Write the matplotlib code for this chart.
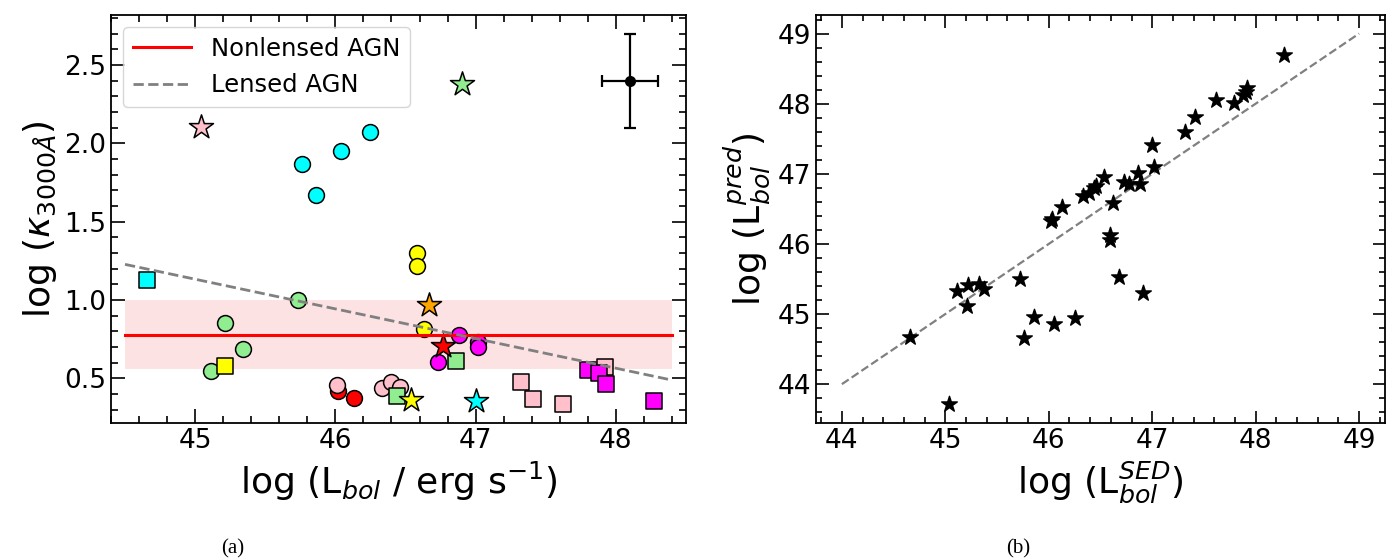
import numpy as np
import matplotlib
matplotlib.use("Agg")
import matplotlib.pyplot as plt

# ---- panel (a): log kappa_3000 vs log L_bol ----
# one list pair per colour / marker group
cyan_circ_x = [45.76, 45.86, 46.04, 46.25]
cyan_circ_y = [1.87, 1.67, 1.95, 2.07]
green_circ_x = [45.73, 45.21, 45.34, 45.11]
green_circ_y = [1.00, 0.855, 0.687, 0.549]
yellow_circ_x = [46.58, 46.58, 46.63]
yellow_circ_y = [1.30, 1.22, 0.817]
red_circ_x = [46.02, 46.13]
red_circ_y = [0.417, 0.375]
pink_circ_x = [46.01, 46.33, 46.40, 46.46]
pink_circ_y = [0.457, 0.44, 0.479, 0.447]
magenta_circ_x = [46.88, 47.02, 47.02, 46.73]
magenta_circ_y = [0.779, 0.734, 0.698, 0.604]

cyan_sq_x = [44.66]
cyan_sq_y = [1.128]
yellow_sq_x = [45.21]
yellow_sq_y = [0.579]
green_sq_x = [46.44, 46.86]
green_sq_y = [0.387, 0.613]
pink_sq_x = [47.32, 47.41, 47.62, 47.92]
pink_sq_y = [0.475, 0.368, 0.336, 0.574]
magenta_sq_x = [47.80, 47.88, 47.93, 48.27]
magenta_sq_y = [0.553, 0.532, 0.462, 0.353]

pink_star_x, pink_star_y = [45.04], [2.106]
green_star_x, green_star_y = [46.90], [2.378]
orange_star_x, orange_star_y = [46.67], [0.966]
red_star_x, red_star_y = [46.77], [0.706]
yellow_star_x, yellow_star_y = [46.54], [0.362]
cyan_star_x, cyan_star_y = [47.00], [0.355]

# typical uncertainty
err_x, err_y, err_dx, err_dy = 48.1, 2.4, 0.2, 0.3

# relations
line_x = [44.5, 48.4]
nonlensed_level = 0.78
nonlensed_lo, nonlensed_hi = 0.56, 1.0
lensed_y = [1.228, 0.489]

# ---- panel (b): predicted vs SED luminosity ----
sed_x = [44.66, 45.04, 45.11, 45.22, 45.33, 45.37, 45.21, 45.72, 45.76, 45.86,
         46.05, 46.25, 46.03, 46.02, 46.13, 46.33, 46.39, 46.44, 46.46, 46.53,
         46.62, 46.59, 46.59, 46.68, 46.91, 46.73, 46.78, 46.88, 46.86, 47.02,
         47.00, 47.32, 47.41, 47.62, 47.79, 47.88, 47.91, 47.92, 48.27]
pred_y = [44.67, 43.71, 45.33, 45.41, 45.43, 45.35, 45.12, 45.50, 44.66, 44.96,
          44.86, 44.95, 46.35, 46.32, 46.52, 46.68, 46.72, 46.80, 46.83, 46.95,
          46.58, 46.13, 46.06, 45.53, 45.30, 46.88, 46.85, 46.86, 47.01, 47.09,
          47.41, 47.60, 47.81, 48.05, 48.01, 48.12, 48.17, 48.23, 48.69]
one_to_one = [44, 49]


def style_axes(ax, major_len=10, minor_len=5):
    ax.minorticks_on()
    ax.tick_params(which="both", direction="in", top=True, right=True,
                   labelsize=19, width=1.2)
    ax.tick_params(which="major", length=major_len)
    ax.tick_params(which="minor", length=minor_len)
    for s in ax.spines.values():
        s.set_linewidth(1.3)


fig = plt.figure(figsize=(13.89, 5.58), dpi=100)
ax1 = fig.add_axes([0.0799, 0.2419, 0.4140, 0.7312])
ax2 = fig.add_axes([0.5875, 0.2419, 0.4096, 0.7312])

# panel (a)
ax1.fill_between(line_x, nonlensed_lo, nonlensed_hi, color="#fde2e4", lw=0, zorder=1)
ax1.plot(line_x, [nonlensed_level] * 2, color="red", lw=2.2, zorder=5,
         label="Nonlensed AGN")
ax1.plot(line_x, lensed_y, color="gray", lw=2, ls="--", zorder=5,
         label="Lensed AGN")

kw = dict(edgecolors="black", linewidths=1.1, zorder=3)
ax1.scatter(cyan_circ_x, cyan_circ_y, s=130, marker="o", c="cyan", **kw)
ax1.scatter(green_circ_x, green_circ_y, s=130, marker="o", c="lightgreen", **kw)
ax1.scatter(yellow_circ_x, yellow_circ_y, s=130, marker="o", c="yellow", **kw)
ax1.scatter(red_circ_x, red_circ_y, s=130, marker="o", c="red", **kw)
ax1.scatter(pink_circ_x, pink_circ_y, s=130, marker="o", c="pink", **kw)
ax1.scatter(magenta_circ_x, magenta_circ_y, s=130, marker="o", c="magenta", **kw)

ax1.scatter(cyan_sq_x, cyan_sq_y, s=120, marker="s", c="cyan", **kw)
ax1.scatter(yellow_sq_x, yellow_sq_y, s=120, marker="s", c="yellow", **kw)
ax1.scatter(green_sq_x, green_sq_y, s=120, marker="s", c="lightgreen", **kw)
ax1.scatter(pink_sq_x, pink_sq_y, s=120, marker="s", c="pink", **kw)
ax1.scatter(magenta_sq_x, magenta_sq_y, s=120, marker="s", c="magenta", **kw)

ax1.scatter(pink_star_x, pink_star_y, s=330, marker="*", c="pink", **kw)
ax1.scatter(green_star_x, green_star_y, s=330, marker="*", c="lightgreen", **kw)
ax1.scatter(orange_star_x, orange_star_y, s=330, marker="*", c="orange", **kw)
ax1.scatter(red_star_x, red_star_y, s=330, marker="*", c="red", **kw)
ax1.scatter(yellow_star_x, yellow_star_y, s=330, marker="*", c="yellow", **kw)
ax1.scatter(cyan_star_x, cyan_star_y, s=330, marker="*", c="cyan", **kw)

ax1.errorbar(err_x, err_y, xerr=err_dx, yerr=err_dy, fmt="o", color="black",
             ms=7, lw=1.6, capsize=4, capthick=1.6, zorder=4)

ax1.set_xlim(44.4, 48.5)
ax1.set_ylim(0.215, 2.82)
ax1.set_xticks([45, 46, 47, 48])
ax1.set_yticks([0.5, 1.0, 1.5, 2.0, 2.5])
style_axes(ax1)
ax1.set_xlabel(r"log (L$_{bol}$ / erg s$^{-1}$)", fontsize=26)
ax1.set_ylabel(r"log ($\kappa_{3000\AA}$)", fontsize=26)
ax1.legend(loc="upper left", fontsize=17.5, handlelength=2.4)

# panel (b)
ax2.plot(one_to_one, one_to_one, color="gray", lw=1.6, ls="--")
ax2.scatter(sed_x, pred_y, s=140, marker="*", c="black", zorder=3)
ax2.set_xticks([44, 45, 46, 47, 48, 49])
ax2.set_yticks([44, 45, 46, 47, 48, 49])
style_axes(ax2, major_len=9, minor_len=4)
ax2.set_xlabel(r"log (L$^{SED}_{bol}$)", fontsize=26)
ax2.set_ylabel(r"log (L$^{pred}_{bol}$)", fontsize=26)

fig.text(0.1678, 0.008, "(a)", fontsize=15, family="Liberation Serif", ha="center")
fig.text(0.7329, 0.008, "(b)", fontsize=15, family="Liberation Serif", ha="center")

fig.savefig("out.png", dpi=100)
